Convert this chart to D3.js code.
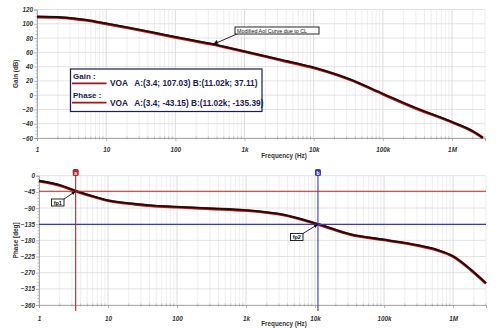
<!DOCTYPE html>
<html>
<head>
<meta charset="utf-8">
<script src="https://cdn.jsdelivr.net/npm/d3@7"></script>
<style>
  html, body { margin: 0; padding: 0; background: #fff; }
  svg { display: block; font-family: "Liberation Sans", Arial, sans-serif; }
</style>
</head>
<body>
<svg id="chart" width="500" height="334"></svg>
<script>
// Open-loop gain (dB) versus frequency (Hz)
const gainFreq = [1, 2, 3.4, 5, 10, 20, 50, 100, 200, 350, 500, 1000, 3200, 11020, 33000, 100000, 300000, 1000000, 2000000, 2800000];
const gainDb   = [109.5, 109, 107.03, 105, 100, 94.5, 87, 81, 75.5, 71, 67.5, 61, 49.5, 37.11, 22, 1.5, -18.5, -38, -51, -60];

// Open-loop phase (deg) versus frequency (Hz)
const phaseFreq = [1, 2.15, 3.4, 6.5, 10, 24.5, 47, 100, 300, 1000, 3600, 11020, 33000, 100000, 300000, 600000, 1000000, 1800000, 3000000];
const phaseDeg  = [-15, -29, -43.15, -60, -69.5, -79.5, -84.5, -87.5, -92, -97, -110, -135.39, -164, -179, -194, -208, -225, -262, -300];

// Cursor readouts
const cursorA = { f: 3.4, gain: 107.03, phase: -43.15, fLabel: "3.4" };
const cursorB = { f: 11020, gain: 37.11, phase: -135.39, fLabel: "11.02k" };

// Axis ticks
const freqTicks = [1, 10, 100, 1e3, 1e4, 1e5, 1e6];
const freqTickLabels = ["1", "10", "100", "1k", "10k", "100k", "1M"];
const gainTicks = [120, 100, 80, 60, 40, 20, 0, -20, -40, -60];
const phaseTicks = [0, -45, -90, -135, -180, -225, -270, -315, -360];

const svg = d3.select("#chart");
const axisCol = "#9a9a9a";
const labelCol = "#333";

function minorFreqs(lo, hi) {
  const out = [];
  for (let d = 1; d < hi; d *= 10)
    for (let k = 2; k <= 9; k++) { const v = d * k; if (v >= lo && v <= hi) out.push(v); }
  return out;
}

function drawPanel(cfg) {
  const { x, y, yTicks, yMinorStep, yTitle, freqs, values, xLabelY } = cfg;
  const g = svg.append("g");
  const [x0, x1] = x.range();
  const [yb, yt] = y.range();

  // minor vertical grid
  g.selectAll(".vmin").data(minorFreqs(1, x.domain()[1])).join("line")
    .attr("x1", d => x(d)).attr("x2", d => x(d)).attr("y1", yt).attr("y2", yb)
    .attr("stroke", "#e6e6e6").attr("stroke-width", 0.7);
  // major vertical grid
  g.selectAll(".vmaj").data(freqTicks).join("line")
    .attr("x1", d => x(d)).attr("x2", d => x(d)).attr("y1", yt).attr("y2", yb)
    .attr("stroke", "#d2d2d2").attr("stroke-width", 0.8);
  // horizontal grid
  g.selectAll(".hmaj").data(yTicks).join("line")
    .attr("x1", x0).attr("x2", x1).attr("y1", d => y(d)).attr("y2", d => y(d))
    .attr("stroke", "#dcdcdc").attr("stroke-width", 0.8);

  // left axis
  const yAxis = d3.axisLeft(y).tickValues(yTicks).tickSize(3).tickFormat(d3.format("d"));
  const ya = g.append("g").attr("transform", `translate(${x0},0)`).call(yAxis);
  const minorY = d3.range(y.domain()[0], y.domain()[1] + 0.001, yMinorStep).filter(v => !yTicks.includes(v));
  g.selectAll(".ymin").data(minorY).join("line")
    .attr("x1", x0 - 1.5).attr("x2", x0).attr("y1", d => y(d)).attr("y2", d => y(d))
    .attr("stroke", axisCol).attr("stroke-width", 0.6);

  // bottom axis
  const xAxis = d3.axisBottom(x).tickValues(freqTicks).tickSize(3)
    .tickFormat((d, i) => freqTickLabels[i]);
  const xa = g.append("g").attr("transform", `translate(0,${yb})`).call(xAxis);
  g.selectAll(".xmin").data(minorFreqs(1, x.domain()[1])).join("line")
    .attr("x1", d => x(d)).attr("x2", d => x(d)).attr("y1", yb - 1.5).attr("y2", yb + 1.5)
    .attr("stroke", axisCol).attr("stroke-width", 0.6);

  [ya, xa].forEach(a => {
    a.select(".domain").attr("stroke", axisCol).attr("stroke-width", 0.8);
    a.selectAll(".tick line").attr("stroke", axisCol).attr("stroke-width", 0.7);
    a.selectAll(".tick text").attr("fill", labelCol).attr("font-size", 6.3)
      .attr("font-weight", "bold").attr("font-style", "italic");
  });
  ya.selectAll(".tick text").attr("x", -4);
  xa.selectAll(".tick text").attr("y", xLabelY - yb);

  // titles
  g.append("text").attr("x", 284).attr("y", yb + cfg.xTitleOff)
    .attr("text-anchor", "middle").attr("font-size", 6.3).attr("font-weight", "bold")
    .attr("fill", labelCol).text("Frequency (Hz)");
  g.append("text").attr("transform", `translate(18,${(yb + yt) / 2}) rotate(-90)`)
    .attr("text-anchor", "middle").attr("font-size", 6.3).attr("font-weight", "bold")
    .attr("fill", labelCol).text(yTitle);

  // curve: red edge with black core
  const line = d3.line().x(d => x(d[0])).y(d => y(d[1])).curve(d3.curveMonotoneX);
  const pts = freqs.map((f, i) => [f, values[i]]);
  g.append("path").attr("d", line(pts)).attr("fill", "none")
    .attr("stroke", "#d01010").attr("stroke-width", 2.8).attr("stroke-linejoin", "round");
  g.append("path").attr("d", line(pts)).attr("fill", "none")
    .attr("stroke", "#111").attr("stroke-width", 1.8).attr("stroke-linejoin", "round")
    .attr("transform", "translate(0,-0.35)");
  return g;
}

// ---------- Gain panel ----------
const xG = d3.scaleLog().domain([1, 3e6]).range([37, 485]);
const yG = d3.scaleLinear().domain([-60, 120]).range([138, 9.5]);
drawPanel({ x: xG, y: yG, yTicks: gainTicks, yMinorStep: 5, yTitle: "Gain (dB)",
  freqs: gainFreq, values: gainDb, xLabelY: 148, xTitleOff: 20 });

// annotation on gain curve
const annF = 350, annG = 71;
svg.append("line").attr("x1", 238).attr("x2", xG(annF)).attr("y1", 33.5).attr("y2", yG(annG))
  .attr("stroke", "#111").attr("stroke-width", 0.9);
svg.append("path")
  .attr("d", `M${xG(annF)},${yG(annG)} l5.5,-1 l-1.8,-3.4 Z`).attr("fill", "#111");
svg.append("rect").attr("x", 235).attr("y", 27).attr("width", 84).attr("height", 7)
  .attr("fill", "#fff").attr("stroke", "#111").attr("stroke-width", 0.9);
svg.append("text").attr("x", 237).attr("y", 32.6).attr("font-size", 5.4).attr("fill", "#111")
  .text("Modified Aol Curve due to CL");

// legend
const lg = svg.append("g");
lg.append("rect").attr("x", 70.5).attr("y", 69).attr("width", 191.5).attr("height", 42.5)
  .attr("fill", "#fff").attr("stroke", "#1c2050").attr("stroke-width", 1.2);
const legRows = [
  { title: "Gain :", ty: 78.5, ly: 83.3, text: `VOA   A:(${cursorA.fLabel}; ${cursorA.gain}) B:(${cursorB.fLabel}; ${cursorB.gain})` },
  { title: "Phase :", ty: 97.5, ly: 102.7, text: `VOA   A:(${cursorA.fLabel}; ${cursorA.phase}) B:(${cursorB.fLabel}; ${cursorB.phase})` }
];
legRows.forEach(r => {
  lg.append("text").attr("x", 73).attr("y", r.ty).attr("font-size", 8).attr("font-weight", "bold")
    .attr("fill", "#1c2050").text(r.title);
  lg.append("line").attr("x1", 72).attr("x2", 106.5).attr("y1", r.ly).attr("y2", r.ly)
    .attr("stroke", "#a01818").attr("stroke-width", 1.8);
  lg.append("text").attr("x", 110).attr("y", r.ly + 2.8).attr("font-size", 8.3).attr("font-weight", "bold")
    .attr("fill", "#1c2050").attr("xml:space", "preserve").text(r.text);
});

// ---------- Phase panel ----------
const xP = d3.scaleLog().domain([1, 3e6]).range([39, 486]);
const yP = d3.scaleLinear().domain([-360, 0]).range([305, 175.7]);

const redCur = "#b02a2a", blueCur = "#3c3cae";
drawPanel({ x: xP, y: yP, yTicks: phaseTicks, yMinorStep: 9, yTitle: "Phase [deg]",
  freqs: phaseFreq, values: phaseDeg, xLabelY: 317, xTitleOff: 21 });

// cursor lines
const cg = svg.append("g");
[[cursorA, redCur], [cursorB, blueCur]].forEach(([c, col]) => {
  cg.append("line").attr("x1", 39).attr("x2", 486).attr("y1", yP(c.phase)).attr("y2", yP(c.phase))
    .attr("stroke", col).attr("stroke-width", 1.1);
});
[[cursorA, redCur, "a"], [cursorB, blueCur, "b"]].forEach(([c, col, lab]) => {
  const cx = xP(c.f);
  cg.append("line").attr("x1", cx).attr("x2", cx).attr("y1", 174).attr("y2", 311)
    .attr("stroke", col).attr("stroke-width", 1.1);
  cg.append("rect").attr("x", cx - 3).attr("y", 169).attr("width", 6).attr("height", 7).attr("rx", 1.5)
    .attr("fill", col);
  cg.append("text").attr("x", cx).attr("y", 174.5).attr("text-anchor", "middle")
    .attr("font-size", 5).attr("font-weight", "bold").attr("fill", "#fff").text(lab);
});

// pole labels with arrows
function poleLabel(text, bx, by, c) {
  const tx = xP(c.f), ty = yP(c.phase);
  cg.append("line").attr("x1", bx + 12.5).attr("y1", by).attr("x2", tx).attr("y2", ty)
    .attr("stroke", "#111").attr("stroke-width", 0.9);
  const ang = Math.atan2(ty - by, tx - bx - 12.5);
  const ah = 4, aw = 1.8;
  const p1 = [tx - ah * Math.cos(ang) + aw * Math.sin(ang), ty - ah * Math.sin(ang) - aw * Math.cos(ang)];
  const p2 = [tx - ah * Math.cos(ang) - aw * Math.sin(ang), ty - ah * Math.sin(ang) + aw * Math.cos(ang)];
  cg.append("path").attr("d", `M${tx},${ty}L${p1}L${p2}Z`).attr("fill", "#111");
  cg.append("rect").attr("x", bx).attr("y", by).attr("width", 12.5).attr("height", 7)
    .attr("fill", "#fff").attr("stroke", "#111").attr("stroke-width", 0.9);
  cg.append("text").attr("x", bx + 6.25).attr("y", by + 5.5).attr("text-anchor", "middle")
    .attr("font-size", 5.5).attr("font-weight", "bold").attr("fill", "#111").text(text);
}
poleLabel("fp1", 51.5, 199, cursorA);
poleLabel("fp2", 290.5, 233.5, cursorB);
</script>
</body>
</html>
